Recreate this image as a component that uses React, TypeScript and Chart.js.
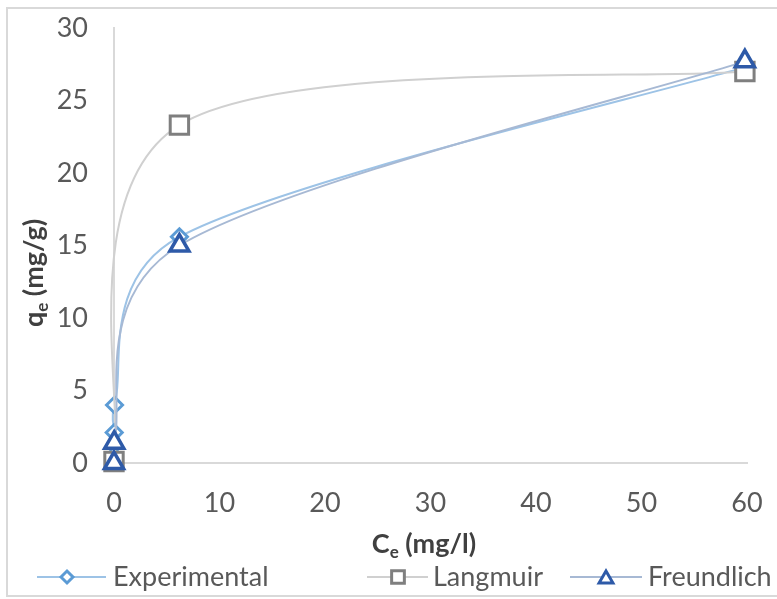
import { useEffect, useRef } from "react";
import { Chart, registerables } from "chart.js";
import { drawPoint } from "chart.js/helpers";

Chart.register(...registerables);

const seriesNames = ["Experimental", "Langmuir", "Freundlich"];
const experimentalX = [0, 0.02, 0.05, 6.2, 59.8];
const experimentalY = [0.5, 2.1, 4.0, 15.6, 27.3];
const langmuirX = [0, 6.2, 59.8];
const langmuirY = [0.1, 23.3, 27.0];
const freundlichX = [0, 0.02, 6.2, 59.8];
const freundlichY = [0, 1.4, 15.0, 27.7];
const xTickValues = [0, 10, 20, 30, 40, 50, 60];
const yTickValues = [0, 5, 10, 15, 20, 25, 30];
const xTitleMain = "C";
const xTitleSub = "e";
const xTitleRest = " (mg/l)";
const yTitleMain = "q";
const yTitleSub = "e";
const yTitleRest = " (mg/g)";

const FONT = "Lato, 'Open Sans', sans-serif";
const lineColors = ["#9dc3e6", "#d0d0d0", "#a7b9d4"];
const markerColors = ["#5b9bd5", "#7f7f7f", "#2e5aa8"];
const markerStyles = ["rectRot", "rect", "triangle"];

function zip(xs: number[], ys: number[]) {
  return xs.map((x, i) => ({ x, y: ys[i] }));
}

function drawSubText(ctx: CanvasRenderingContext2D, x: number, y: number, main: string, sub: string, rest: string, align: "left" | "center") {
  const bigFont = `bold 27px ${FONT}`;
  const smallFont = `bold 17px ${FONT}`;
  ctx.font = bigFont;
  const wMain = ctx.measureText(main).width;
  const wRest = ctx.measureText(rest).width;
  ctx.font = smallFont;
  const wSub = ctx.measureText(sub).width;
  const total = wMain + wSub + wRest;
  let cx = align === "center" ? x - total / 2 : x;
  ctx.textAlign = "left";
  ctx.textBaseline = "alphabetic";
  ctx.font = bigFont;
  ctx.fillText(main, cx, y);
  cx += wMain;
  ctx.font = smallFont;
  ctx.fillText(sub, cx, y + 5);
  cx += wSub;
  ctx.font = bigFont;
  ctx.fillText(rest, cx, y);
}

// Excel-style smoothing: Bezier control points at 1/6 of the neighbour chord,
// limited to half of the adjacent segment length.
const excelSmoothPlugin = {
  id: "excelSmooth",
  beforeDatasetDraw(chart: any, args: any) {
    const meta = args.meta;
    const line = meta.dataset;
    if (!line) return;
    if (typeof line.updateControlPoints === "function") line.updateControlPoints(chart.chartArea, "x");
    const pts = meta.data;
    const n = pts.length;
    for (let i = 0; i < n; i++) {
      const p = pts[i];
      const prev = pts[i - 1] || p;
      const next = pts[i + 1] || p;
      const dx = next.x - prev.x;
      const dy = next.y - prev.y;
      const d02 = Math.hypot(dx, dy) || 1;
      const dPrev = Math.hypot(p.x - prev.x, p.y - prev.y);
      const dNext = Math.hypot(next.x - p.x, next.y - p.y);
      const fIn = Math.min(1 / 6, dPrev / (2 * d02));
      const fOut = Math.min(1 / 6, dNext / (2 * d02));
      p.cp1x = p.x - fIn * dx;
      p.cp1y = p.y - fIn * dy;
      p.cp2x = p.x + fOut * dx;
      p.cp2y = p.y + fOut * dy;
    }
    line._pointsUpdated = true;
    line._path = undefined;
  },
};

const decorPlugin = {
  id: "decor",
  beforeDraw(chart: any) {
    const ctx = chart.ctx as CanvasRenderingContext2D;
    ctx.save();
    ctx.fillStyle = "#ffffff";
    ctx.fillRect(0, 0, chart.width, chart.height);
    ctx.strokeStyle = "#d9d9d9";
    ctx.lineWidth = 2;
    ctx.strokeRect(7, 8, 820, 588);
    ctx.restore();
  },
  afterDraw(chart: any) {
    const ctx = chart.ctx as CanvasRenderingContext2D;
    ctx.save();
    ctx.fillStyle = "#404040";
    drawSubText(ctx, 424, 553, xTitleMain, xTitleSub, xTitleRest, "center");
    ctx.save();
    ctx.translate(43, 273);
    ctx.rotate(-Math.PI / 2);
    drawSubText(ctx, 0, 0, yTitleMain, yTitleSub, yTitleRest, "center");
    ctx.restore();

    const items = [
      { x0: 37, x1: 106, mx: 67, tx: 113, r: 6 },
      { x0: 367, x1: 428, mx: 398, tx: 433, r: 9 },
      { x0: 570, x1: 642, mx: 606, tx: 648, r: 8 },
    ];
    const ly = 577;
    chart.data.datasets.forEach((ds: any, i: number) => {
      const it = items[i];
      ctx.strokeStyle = lineColors[i];
      ctx.lineWidth = 2;
      ctx.beginPath();
      ctx.moveTo(it.x0, ly);
      ctx.lineTo(it.x1, ly);
      ctx.stroke();
      ctx.strokeStyle = markerColors[i];
      ctx.fillStyle = "#ffffff";
      ctx.lineWidth = 3;
      drawPoint(ctx, { pointStyle: markerStyles[i] as any, radius: it.r, borderWidth: 3, rotation: 0 } as any, it.mx, i === 2 ? ly + 2 : ly);
      ctx.fillStyle = "#595959";
      ctx.font = `27px ${FONT}`;
      ctx.textAlign = "left";
      ctx.textBaseline = "middle";
      ctx.fillText(ds.label, it.tx, ly);
    });
    ctx.restore();
  },
};

function resetPadding(s: any) {
  s.paddingTop = 0;
  s.paddingBottom = 0;
  s.paddingLeft = 0;
  s.paddingRight = 0;
}

export default function App() {
  const ref = useRef<HTMLCanvasElement | null>(null);
  useEffect(() => {
    if (!ref.current) return;
    const tickFont = { family: FONT, size: 27 };
    const common = { borderWidth: 2, pointBackgroundColor: "#ffffff", tension: 0.4, clip: false as any };
    const chart = new Chart(ref.current, {
      type: "line",
      data: {
        datasets: [
          {
            ...common,
            label: seriesNames[0],
            data: zip(experimentalX, experimentalY),
            borderColor: lineColors[0],
            pointStyle: "rectRot",
            pointRadius: 8,
            pointBorderWidth: 3,
            pointBorderColor: markerColors[0],
            order: 3,
          },
          {
            ...common,
            label: seriesNames[1],
            data: zip(langmuirX, langmuirY),
            borderColor: lineColors[1],
            pointStyle: "rect",
            pointRadius: 13,
            pointBorderWidth: 3,
            pointBorderColor: markerColors[1],
            order: 2,
          },
          {
            ...common,
            label: seriesNames[2],
            data: zip(freundlichX, freundlichY),
            borderColor: lineColors[2],
            pointStyle: "triangle",
            pointRadius: 11,
            pointBorderWidth: 3.5,
            pointBorderColor: markerColors[2],
            order: 1,
          },
        ],
      },
      options: {
        animation: false,
        responsive: false,
        devicePixelRatio: 1,
        layout: { autoPadding: false, padding: { left: 0, right: 30, top: 28, bottom: 0 } },
        plugins: {
          legend: { display: false },
          tooltip: { enabled: false },
        },
        scales: {
          x: {
            type: "linear",
            min: xTickValues[0],
            max: xTickValues[xTickValues.length - 1],
            afterBuildTicks: (s: any) => {
              s.ticks = xTickValues.map((v) => ({ value: v }));
            },
            ticks: { color: "#595959", font: tickFont, padding: 24, maxRotation: 0 },
            grid: { display: false, drawTicks: false },
            border: { display: true, color: "#d9d9d9", width: 2 },
            afterFit: (s: any) => {
              s.height = 136;
              resetPadding(s);
            },
          },
          y: {
            type: "linear",
            min: yTickValues[0],
            max: yTickValues[yTickValues.length - 1],
            afterBuildTicks: (s: any) => {
              s.ticks = yTickValues.map((v) => ({ value: v }));
            },
            ticks: { color: "#595959", font: tickFont, padding: 26 },
            grid: { display: false, drawTicks: false },
            border: { display: true, color: "#d9d9d9", width: 2 },
            afterFit: (s: any) => {
              s.width = 114;
              resetPadding(s);
            },
          },
        },
      },
      plugins: [excelSmoothPlugin, decorPlugin],
    });
    return () => chart.destroy();
  }, []);
  return (
    <div style={{ position: "fixed", left: 0, top: 0, width: 777, height: 599, overflow: "hidden", background: "#fff" }}>
      <canvas ref={ref} width={777} height={599} style={{ display: "block" }} />
    </div>
  );
}
